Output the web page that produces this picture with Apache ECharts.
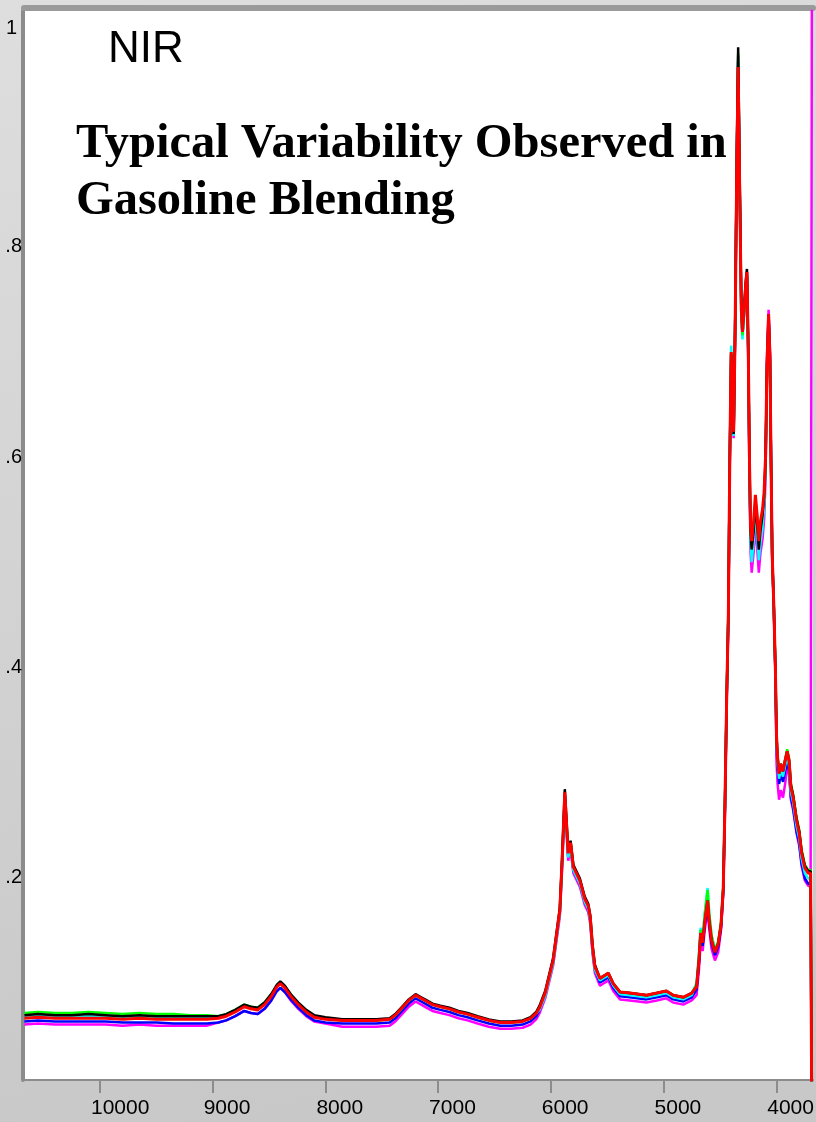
<!DOCTYPE html>
<html><head><meta charset="utf-8">
<script src="https://cdn.jsdelivr.net/npm/echarts@6/dist/echarts.min.js"></script>
<style>html,body{margin:0;padding:0;background:#d4d4d4}#c{width:816px;height:1122px}</style>
</head><body><div id="c"></div><script>
const titleText = 'NIR';
const subtitleText = 'Typical Variability Observed in\nGasoline Blending';
const xTickValues = [10000, 9000, 8000, 7000, 6000, 5000, 4000];
const xTickLabels = ['10000', '9000', '8000', '7000', '6000', '5000', '4000'];
const yTickValues = [0.2, 0.4, 0.6, 0.8, 1];
const yTickLabels = ['.2', '.4', '.6', '.8', '1'];

const wavenumbers = [10670,10550,10400,10250,10100,9950,9800,9650,9500,9350,9200,9050,
 8950,8880,8800,8720,8660,8600,8540,8480,8430,8400,8360,8300,8240,8170,8100,8000,
 7850,7700,7550,7430,7380,7320,7260,7200,7150,7100,7050,6980,6900,6820,6740,6650,6550,6450,6350,6250,6180,6130,
 6100,6050,5980,5920,5900,5876,5846,5825,5800,5742,5700,5668,5650,5630,5609,
 5564,5520,5490,5446,5386,5300,5150,5060,4975,4915,4825,4750,
 4707,4686,4671,4653,4633,4609,4595,4574,4544,4515,
 4490,4470,4455,4440,4425,4412,4400,4388,4378,4365,4350,
 4338,
 4325,4310,4300,4285,4270,4260,
 4248,4238,4228,4218,4200,4185,4170,4155,4140,4122,4108,4095,
 4082,4068,4056,4047,4036,4022,4008,
 3997,3988,3975,3960,3940,3920,3903,3886,
 3870,3850,3820,3796,3775,3746,3716,3695,
 3682];

const specRed = [0.066,0.067,0.066,0.066,0.066,0.066,0.065,0.066,0.065,0.065,0.065,0.065,
 0.066,0.068,0.072,0.077,0.075,0.074,0.079,0.087,0.096,0.099,0.095,0.086,0.079,0.072,0.067,0.065,
 0.064,0.064,0.064,0.065,0.069,0.076,0.083,0.088,0.085,0.082,0.079,0.077,0.075,0.072,0.070,0.067,0.064,0.062,0.062,0.063,0.066,0.071,
 0.076,0.090,0.121,0.169,0.216,0.281,0.223,0.233,0.210,0.197,0.180,0.173,0.162,0.134,0.115,
 0.104,0.107,0.109,0.099,0.091,0.090,0.088,0.090,0.092,0.088,0.086,0.090,
 0.096,0.121,0.147,0.138,0.159,0.178,0.159,0.140,0.129,0.137,
 0.155,0.190,0.270,0.370,0.450,0.600,0.700,0.660,0.624,0.720,0.880,
 0.971,
 0.860,0.740,0.719,0.740,0.765,0.776,
 0.700,0.600,0.535,0.520,0.540,0.564,0.545,0.520,0.539,0.550,0.566,0.600,
 0.690,0.736,0.697,0.602,0.507,0.460,0.400,
 0.333,0.314,0.299,0.308,0.301,0.312,0.320,0.311,
 0.286,0.276,0.254,0.242,0.223,0.209,0.204,0.204,
 -0.100];

const specBlack = [0.069,0.070,0.069,0.069,0.070,0.069,0.068,0.069,0.068,0.068,0.068,0.068,
 0.068,0.070,0.074,0.079,0.077,0.076,0.081,0.089,0.098,0.101,0.097,0.088,0.081,0.074,0.069,0.067,
 0.065,0.065,0.065,0.066,0.070,0.077,0.084,0.089,0.086,0.083,0.080,0.078,0.076,0.073,0.071,0.068,0.065,0.063,0.063,0.064,0.067,0.072,
 0.078,0.092,0.123,0.171,0.218,0.284,0.225,0.235,0.212,0.199,0.182,0.175,0.164,0.136,0.117,
 0.104,0.107,0.109,0.099,0.091,0.090,0.088,0.090,0.092,0.088,0.086,0.090,
 0.096,0.121,0.147,0.138,0.159,0.178,0.159,0.140,0.129,0.137,
 0.155,0.190,0.270,0.370,0.450,0.600,0.698,0.658,0.622,0.722,0.890,
 0.990,
 0.870,0.745,0.722,0.742,0.768,0.779,
 0.702,0.600,0.530,0.512,0.530,0.556,0.537,0.512,0.530,0.545,0.562,0.598,
 0.690,0.736,0.697,0.602,0.507,0.460,0.400,
 0.333,0.314,0.299,0.308,0.301,0.312,0.320,0.311,
 0.288,0.278,0.256,0.244,0.225,0.211,0.206,0.206,
 -0.100];

const specGreen = [0.071,0.072,0.071,0.071,0.072,0.071,0.070,0.071,0.070,0.070,0.069,0.069,
 0.068,0.070,0.074,0.079,0.077,0.076,0.081,0.089,0.097,0.100,0.096,0.087,0.080,0.073,0.068,0.066,
 0.064,0.064,0.064,0.065,0.069,0.076,0.083,0.088,0.085,0.082,0.079,0.077,0.075,0.072,0.070,0.067,0.064,0.062,0.062,0.063,0.066,0.071,
 0.076,0.090,0.121,0.169,0.216,0.279,0.225,0.234,0.210,0.197,0.180,0.173,0.162,0.134,0.115,
 0.104,0.107,0.109,0.099,0.091,0.090,0.088,0.090,0.092,0.088,0.086,0.090,
 0.098,0.124,0.150,0.142,0.166,0.188,0.166,0.145,0.131,0.139,
 0.157,0.192,0.272,0.372,0.452,0.600,0.700,0.655,0.625,0.722,0.885,
 0.984,
 0.865,0.738,0.716,0.738,0.764,0.774,
 0.698,0.598,0.530,0.515,0.536,0.560,0.545,0.522,0.532,0.545,0.560,0.594,
 0.680,0.722,0.690,0.600,0.507,0.460,0.400,
 0.333,0.314,0.300,0.308,0.303,0.313,0.322,0.313,
 0.289,0.279,0.257,0.245,0.226,0.212,0.207,0.207,
 -0.100];

const specCyan = [0.068,0.069,0.068,0.068,0.068,0.068,0.067,0.068,0.067,0.067,0.067,0.067,
 0.067,0.069,0.073,0.078,0.076,0.075,0.080,0.088,0.097,0.100,0.096,0.087,0.080,0.073,0.068,0.066,
 0.064,0.064,0.064,0.065,0.069,0.076,0.083,0.088,0.085,0.082,0.079,0.077,0.075,0.072,0.070,0.067,0.064,0.062,0.062,0.063,0.066,0.071,
 0.074,0.087,0.118,0.166,0.213,0.276,0.219,0.228,0.207,0.194,0.177,0.170,0.159,0.131,0.112,
 0.102,0.105,0.107,0.097,0.089,0.088,0.086,0.088,0.090,0.086,0.084,0.088,
 0.100,0.128,0.152,0.144,0.168,0.190,0.166,0.145,0.131,0.139,
 0.156,0.190,0.270,0.372,0.452,0.605,0.706,0.664,0.620,0.725,0.880,
 0.979,
 0.862,0.735,0.712,0.735,0.762,0.772,
 0.695,0.590,0.520,0.500,0.520,0.548,0.528,0.502,0.518,0.532,0.552,0.592,
 0.685,0.730,0.692,0.600,0.505,0.458,0.398,
 0.328,0.309,0.294,0.303,0.296,0.307,0.315,0.306,
 0.281,0.271,0.249,0.237,0.218,0.204,0.199,0.199,
 -0.100];

const specBlue = [0.063,0.064,0.063,0.063,0.063,0.063,0.062,0.062,0.062,0.061,0.061,0.061,
 0.062,0.064,0.068,0.073,0.071,0.070,0.075,0.083,0.092,0.095,0.091,0.083,0.076,0.069,0.064,0.062,
 0.061,0.061,0.061,0.062,0.066,0.073,0.080,0.085,0.082,0.079,0.076,0.074,0.072,0.069,0.067,0.064,0.061,0.059,0.059,0.060,0.063,0.068,
 0.074,0.088,0.119,0.167,0.214,0.278,0.220,0.230,0.207,0.194,0.177,0.170,0.159,0.131,0.112,
 0.100,0.103,0.105,0.095,0.087,0.086,0.084,0.086,0.088,0.084,0.082,0.086,
 0.093,0.118,0.144,0.135,0.156,0.175,0.156,0.137,0.126,0.134,
 0.152,0.187,0.267,0.368,0.448,0.598,0.698,0.656,0.621,0.720,0.880,
 0.976,
 0.860,0.738,0.716,0.737,0.762,0.772,
 0.695,0.592,0.522,0.505,0.525,0.550,0.531,0.506,0.524,0.536,0.554,0.592,
 0.686,0.732,0.694,0.600,0.505,0.458,0.396,
 0.323,0.304,0.289,0.298,0.291,0.302,0.310,0.301,
 0.276,0.266,0.244,0.232,0.213,0.199,0.194,0.194,
 -0.100];

const specMagenta = [0.060,0.061,0.060,0.060,0.060,0.060,0.059,0.060,0.059,0.059,0.059,0.059,
 0.062,0.064,0.068,0.073,0.071,0.070,0.075,0.083,0.092,0.095,0.091,0.082,0.075,0.068,0.063,0.061,
 0.058,0.058,0.058,0.059,0.063,0.070,0.077,0.082,0.079,0.076,0.073,0.071,0.069,0.066,0.064,0.061,0.058,0.056,0.056,0.057,0.060,0.065,
 0.071,0.085,0.116,0.163,0.208,0.272,0.216,0.227,0.204,0.191,0.174,0.167,0.156,0.128,0.109,
 0.097,0.100,0.102,0.092,0.084,0.083,0.081,0.083,0.085,0.081,0.079,0.083,
 0.088,0.112,0.138,0.130,0.151,0.170,0.151,0.132,0.121,0.129,
 0.150,0.185,0.265,0.366,0.446,0.596,0.695,0.652,0.618,0.720,0.885,
 0.982,
 0.866,0.738,0.716,0.738,0.766,0.772,
 0.690,0.585,0.510,0.490,0.510,0.534,0.515,0.490,0.509,0.522,0.540,0.580,
 0.694,0.740,0.700,0.605,0.508,0.458,0.396,
 0.308,0.289,0.274,0.283,0.276,0.290,0.305,0.298,
 0.274,0.264,0.242,0.230,0.211,0.197,0.192,0.192,
 1.200];

const spectra = [
  { name: 'S6', values: specMagenta, color: '#ff00ff', width: 2.5 },
  { name: 'S5', values: specBlue, color: '#0000ff', width: 2.5 },
  { name: 'S4', values: specCyan, color: '#00ffff', width: 2.5 },
  { name: 'S3', values: specGreen, color: '#00ff00', width: 2.5 },
  { name: 'S2', values: specBlack, color: '#000000', width: 2.5 },
  { name: 'S1', values: specRed, color: '#ff0000', width: 3 }
];

const chart = echarts.init(document.getElementById('c'), null, { renderer: 'canvas' });
const X_MIN = 3674, X_MAX = 10674, LABEL_SHIFT = 80;
const option = {
  animation: false,
  backgroundColor: {
    type: 'linear', x: 0, y: 0, x2: 0.3, y2: 1,
    colorStops: [{ offset: 0, color: '#dedede' }, { offset: 1, color: '#c8c8c8' }]
  },
  title: [
    { text: titleText, left: 108, top: 28, padding: 0,
      textStyle: { fontFamily: 'Liberation Sans', fontSize: 44, fontWeight: 'normal', color: '#000' } },
    { text: subtitleText, left: 76, top: 116, padding: 0,
      textStyle: { fontFamily: 'Liberation Serif', fontSize: 48.5, fontWeight: 'bold', lineHeight: 57, color: '#000' } }
  ],
  grid: { left: 24, right: 3, top: 11, bottom: 42, show: true, backgroundColor: '#ffffff', borderWidth: 0,
    containLabel: false, outerBoundsMode: 'none' },
  xAxis: [
    { type: 'value', min: X_MIN, max: X_MAX, inverse: true, position: 'bottom',
      axisLine: { show: true, lineStyle: { color: '#8c8c8c', width: 2 } },
      axisTick: { show: true, customValues: xTickValues, length: 13, lineStyle: { color: '#8c8c8c', width: 2 } },
      axisLabel: { show: false }, splitLine: { show: false } },
    { type: 'value', min: X_MIN - LABEL_SHIFT, max: X_MAX - LABEL_SHIFT, inverse: true, position: 'bottom',
      axisLine: { show: false }, axisTick: { show: false }, splitLine: { show: false },
      axisLabel: { show: true, customValues: xTickValues, align: 'left', margin: 18, hideOverlap: false,
        fontFamily: 'Liberation Sans', fontSize: 21, color: '#000',
        formatter: v => xTickLabels[xTickValues.indexOf(v)] } },
    { type: 'value', min: X_MIN, max: X_MAX, inverse: true, position: 'top', offset: 3,
      axisLine: { show: true, lineStyle: { color: '#9a9a9a', width: 6 } },
      axisTick: { show: false }, axisLabel: { show: false }, splitLine: { show: false } }
  ],
  yAxis: [
    { type: 'value', min: 0.0073, max: 1.0244, position: 'left', offset: 1,
      axisLine: { show: true, lineStyle: { color: '#8c8c8c', width: 4 } },
      axisTick: { show: false }, splitLine: { show: false },
      axisLabel: { show: true, customValues: yTickValues, margin: 1,
        fontFamily: 'Liberation Sans', fontSize: 20, color: '#000',
        formatter: v => {
          const t = yTickLabels[yTickValues.indexOf(v)];
          return t === '1' ? '{one|' + t + '}' : t;
        },
        rich: { one: { fontFamily: 'Liberation Sans', fontSize: 20, color: '#000', padding: [0, 5, 16, 0] } } } }
  ],
  series: spectra.map(s => ({
    name: s.name, type: 'line', xAxisIndex: 0, yAxisIndex: 0,
    data: wavenumbers.map((w, i) => [w, s.values[i]]),
    showSymbol: false, symbol: 'none', clip: true,
    lineStyle: { color: s.color, width: s.width },
    itemStyle: { color: s.color }
  }))
};
chart.setOption(option);
</script></body></html>
